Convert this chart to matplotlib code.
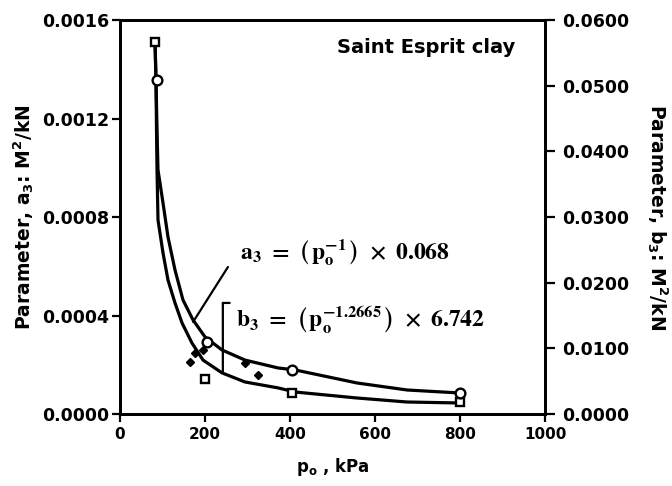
import matplotlib
matplotlib.use("Agg")
import matplotlib.pyplot as plt
from matplotlib.ticker import FixedLocator

# ---- data ----
# fitted curve a3 (upper)
a3_p = [82.4, 84.7, 87.1, 89.4, 101.2, 112.9, 129.4, 148.2, 171.8, 200, 240,
        294.1, 371.8, 411.8, 557.6, 675.3, 800]
a3_v = [0.001511, 0.001356, 0.001153, 0.000991, 0.000857, 0.000719, 0.000585,
        0.000463, 0.000382, 0.000313, 0.00026, 0.000219, 0.000187, 0.000179,
        0.000126, 0.0000975, 0.0000853]
# fitted curve b3 (lower)
b3_p = [82.4, 84.7, 85.9, 87.1, 89.4, 101.2, 112.9, 129.4, 145.9, 169.4, 195.3,
        240, 294.1, 371.8, 411.8, 557.6, 675.3, 800]
b3_v = [0.001511, 0.001356, 0.001153, 0.000991, 0.000788, 0.000654, 0.000544,
        0.000451, 0.00037, 0.000288, 0.000219, 0.000167, 0.00013, 0.000106,
        0.0000893, 0.000065, 0.0000487, 0.0000447]

# measured points
sq_p = [82, 200, 405, 800]
sq_v = [0.00151, 0.000142, 0.0000853, 0.0000487]
ci_p = [87, 204, 405, 800]
ci_v = [0.001356, 0.000292, 0.000179, 0.0000853]
fd_p = [165, 176, 195, 294, 325]
fd_v = [0.000211, 0.000248, 0.00026, 0.000207, 0.000158]

x_ticks = [0, 200, 400, 600, 800, 1000]
left_ticks = [0.0, 0.0004, 0.0008, 0.0012, 0.0016]
left_labels = ["0.0000", "0.0004", "0.0008", "0.0012", "0.0016"]
right_ticks = [0.0, 0.01, 0.02, 0.03, 0.04, 0.05, 0.06]
right_labels = ["0.0000", "0.0100", "0.0200", "0.0300", "0.0400", "0.0500", "0.0600"]

plt.rcParams['font.family'] = ['DejaVu Sans']
plt.rcParams['font.weight'] = 'bold'

fig = plt.figure(figsize=(6.72, 4.86), dpi=100)
ax = fig.add_axes([120/672, 1-414/486, 425/672, 394/486])

ax.plot(a3_p, a3_v, color='black', lw=2.3, zorder=3, solid_joinstyle='round')
ax.plot(b3_p, b3_v, color='black', lw=2.3, zorder=3, solid_joinstyle='round')
ax.plot(sq_p, sq_v, ls='none', marker='s', ms=6, mfc='white', mec='black', mew=1.7, zorder=4)
ax.plot(ci_p, ci_v, ls='none', marker='o', ms=7, mfc='white', mec='black', mew=1.7, zorder=4)
ax.plot(fd_p, fd_v, ls='none', marker='D', ms=4, mfc='black', mec='black', zorder=4)

ax.set_xlim(0, 1000)
ax.set_ylim(0, 0.0016)
ax.xaxis.set_major_locator(FixedLocator(x_ticks))
ax.set_xticklabels([str(v) for v in x_ticks], fontsize=11, fontweight='bold')
ax.yaxis.set_major_locator(FixedLocator(left_ticks))
ax.set_yticklabels(left_labels, fontsize=12.5, fontweight='bold')
ax.tick_params(direction='out', length=6, width=1.6)
ax.tick_params(axis='y', pad=2)
for s in ax.spines.values():
    s.set_linewidth(2)

ax2 = ax.twinx()
ax2.set_ylim(0, 0.06)
ax2.yaxis.set_major_locator(FixedLocator(right_ticks))
ax2.set_yticklabels(right_labels, fontsize=12.5, fontweight='bold')
ax2.tick_params(direction='out', length=7, width=1.6, pad=5)
for s in ax2.spines.values():
    s.set_linewidth(2)

ax.set_xlabel(r"p$_\mathbf{o}$ , kPa", fontsize=12, fontweight='bold', labelpad=10)
ax.set_ylabel(r"Parameter, a$_\mathbf{3}$: M$^\mathbf{2}$/kN", fontsize=13.5,
              fontweight='bold', labelpad=4)
ax2.set_ylabel(r"Parameter, b$_\mathbf{3}$: M$^\mathbf{2}$/kN", fontsize=13.5,
               fontweight='bold', rotation=270, labelpad=12, va='bottom')

ax.text(0.93, 0.93, "Saint Esprit clay", transform=ax.transAxes, ha='right', va='center',
        fontsize=14, fontweight='bold')

ax.text(282, 0.000654,
        r"$\mathrm{a_3}\ =\ \left(\,\mathrm{p_o^{-1}}\,\right)\ \times\ 0.068$",
        fontsize=17, math_fontfamily='stix', ha='left', va='center')
ax.text(273, 0.000382,
        r"$\mathrm{b_3}\ =\ \left(\,\mathrm{p_o^{-1.2665}}\,\right)\ \times\ 6.742$",
        fontsize=17, math_fontfamily='stix', ha='left', va='center')

# leader and bracket
ax.annotate("", xy=(172, 0.000374), xytext=(254, 0.000597),
            arrowprops=dict(arrowstyle='-', lw=1.6, color='black', shrinkA=0, shrinkB=0))
ax.annotate("", xy=(242, 0.000172), xytext=(242, 0.000451),
            arrowprops=dict(arrowstyle='-', lw=1.6, color='black', shrinkA=0, shrinkB=0))
ax.annotate("", xy=(258, 0.000451), xytext=(242, 0.000451),
            arrowprops=dict(arrowstyle='-', lw=1.6, color='black', shrinkA=0, shrinkB=0))

fig.savefig("out.png", dpi=100)
